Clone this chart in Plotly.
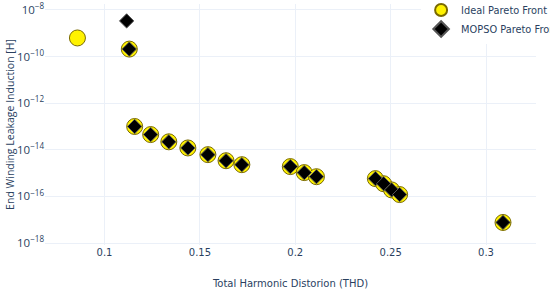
import plotly.graph_objects as go

# Ideal Pareto front (THD, end winding leakage induction)
ideal_thd = [0.0858, 0.113, 0.1158, 0.1242, 0.1337, 0.1437, 0.1542, 0.1637, 0.172,
             0.1974, 0.2047, 0.2111, 0.242, 0.2463, 0.2505, 0.2547, 0.3089]
ideal_ind = [6.3e-10, 2.1e-10, 1.0e-13, 4.5e-14, 2.2e-14, 1.2e-14, 6.2e-15, 3.4e-15, 2.3e-15,
             1.9e-15, 1.05e-15, 7.0e-16, 5.8e-16, 3.5e-16, 1.9e-16, 1.2e-16, 7.6e-18]

# MOPSO Pareto front
mopso_thd = [0.1116, 0.113, 0.1158, 0.1242, 0.1337, 0.1437, 0.1542, 0.1637, 0.172,
             0.1974, 0.2047, 0.2111, 0.242, 0.2463, 0.2505, 0.2547, 0.3089]
mopso_ind = [3.4e-9, 2.1e-10, 1.0e-13, 4.5e-14, 2.2e-14, 1.2e-14, 6.2e-15, 3.4e-15, 2.3e-15,
             1.9e-15, 1.05e-15, 7.0e-16, 5.8e-16, 3.5e-16, 1.9e-16, 1.2e-16, 7.6e-18]

# y ticks
y_tickvals = [1e-18, 1e-16, 1e-14, 1e-12, 1e-10, 1e-8]
y_ticktext = ["10<sup>−18</sup>", "10<sup>−16</sup>", "10<sup>−14</sup>",
              "10<sup>−12</sup>", "10<sup>−10</sup>", "10<sup>−8</sup>"]

fig = go.Figure()
fig.add_trace(go.Scatter(
    x=ideal_thd, y=ideal_ind, mode="markers", name="Ideal Pareto Front",
    marker=dict(symbol="circle", size=16, color="#FFF200",
                line=dict(color="#7a6a00", width=1))))
fig.add_trace(go.Scatter(
    x=mopso_thd, y=mopso_ind, mode="markers", name="MOPSO Pareto Front",
    marker=dict(symbol="diamond", size=11, color="black",
                line=dict(color="#555555", width=1))))

fig.update_layout(
    template="plotly_white",
    width=550, height=291,
    margin=dict(l=45, r=14, t=4, b=46, autoexpand=False),
    legend=dict(x=0.766, y=1.035, xanchor="left", yanchor="top", itemsizing="constant",
                bgcolor="white", font=dict(family="DejaVu Sans", size=9.8,
                                           color="#2a3f5f")),
    xaxis=dict(title=dict(text="Total Harmonic Distorion (THD)",
                          font=dict(family="DejaVu Sans", size=10), standoff=22),
               range=[0.0688, 0.3262], tickvals=[0.1, 0.15, 0.2, 0.25, 0.3],
               tickfont=dict(family="DejaVu Sans", size=10), zeroline=False,
               automargin=False),
    yaxis=dict(title=dict(text="End Winding Leakage Induction [H]", font=dict(size=10.5),
                          standoff=0),
               type="log", range=[-18.086, -7.743],
               tickvals=y_tickvals, ticktext=y_ticktext,
               tickfont=dict(size=11.5), automargin=False),
)

# page body has an 8px default margin; drop it so the figure sits at the corner
fig.write_html("out.html", config={"displayModeBar": False},
               post_script="document.body.style.margin='0px';")
